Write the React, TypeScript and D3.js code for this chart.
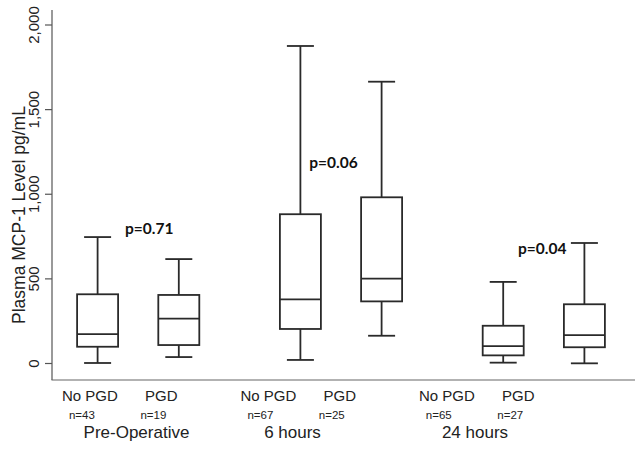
import React from "react";
import * as d3 from "d3";

const timepoints = ["Pre-Operative", "6 hours", "24 hours"];
const subgroups = ["No PGD", "PGD"];
const sampleSizes = [[43, 19], [67, 25], [65, 27]];
// [min, q1, median, q3, max] for each timepoint x subgroup
const whiskerLow = [[3, 38], [21, 164], [5, 1]];
const quartile1 = [[99, 109], [204, 367], [48, 96]];
const medians = [[173, 265], [379, 501], [103, 168]];
const quartile3 = [[409, 405], [882, 982], [223, 350]];
const whiskerHigh = [[747, 617], [1876, 1665], [482, 712]];
const pValues = ["p=0.71", "p=0.06", "p=0.04"];
const pValueLevel = [800, 1190, 682];
const yTicks = [0, 500, 1000, 1500, 2000];

const W = 635;
const H = 455;

export default function App() {
  const y = d3.scaleLinear().domain([0, 2000]).range([363.5, 25]);
  const xGroup = d3.scaleBand<string>().domain(timepoints).range([36.8, 645.2]).padding(0);
  const bw = xGroup.bandwidth();
  const xSub = d3.scalePoint<string>().domain(subgroups).range([bw / 2 - 40.6, bw / 2 + 40.6]);
  const boxX = (g: string, s: string) => (xGroup(g) as number) + (xSub(s) as number);
  // text labels beneath are laid out on a compressed version of the box positions
  const labelX = d3.scaleLinear().domain([0, 100]).range([4, 92]);
  const boxW = 41;
  const capW = 27;
  const fmt = d3.format(",");
  const stroke = "#2a2a2a";
  const groupTitleX = [136.5, 292.5, 475];
  const pShift = [11, -7.5, -1.5];

  return (
    <svg
      width={W}
      height={H}
      style={{ position: "absolute", left: 0, top: 0, background: "#fff" }}
      fontFamily="'Liberation Sans', Arial, Helvetica, sans-serif"
    >
      <rect x={0} y={0} width={W} height={H} fill="#fff" />
      {/* axes */}
      <line x1={52} x2={52} y1={10} y2={380} stroke="#555" strokeWidth={1.2} />
      <line x1={51.5} x2={635} y1={380} y2={380} stroke="#666" strokeWidth={1.2} />
      {yTicks.map((t) => (
        <g key={t}>
          <line x1={45} x2={52} y1={y(t)} y2={y(t)} stroke="#555" strokeWidth={1.2} />
          <text
            transform={`translate(33,${y(t)}) rotate(-90)`}
            textAnchor="middle"
            dominantBaseline="central"
            fontSize={15}
            fill="#222"
          >
            {fmt(t)}
          </text>
        </g>
      ))}
      <text
        transform={`translate(18.5,215) rotate(-90)`}
        textAnchor="middle"
        dominantBaseline="central"
        fontSize={17.5}
        fill="#222"
      >
        Plasma MCP-1 Level pg/mL
      </text>

      {/* boxes */}
      {timepoints.map((g, gi) =>
        subgroups.map((s, si) => {
          const cx = boxX(g, s);
          return (
            <g key={g + s} stroke={stroke} strokeWidth={1.8} fill="none">
              <line x1={cx} x2={cx} y1={y(whiskerHigh[gi][si])} y2={y(quartile3[gi][si])} />
              <line x1={cx} x2={cx} y1={y(quartile1[gi][si])} y2={y(whiskerLow[gi][si])} />
              <line x1={cx - capW / 2} x2={cx + capW / 2} y1={y(whiskerHigh[gi][si])} y2={y(whiskerHigh[gi][si])} />
              <line x1={cx - capW / 2} x2={cx + capW / 2} y1={y(whiskerLow[gi][si])} y2={y(whiskerLow[gi][si])} />
              <rect
                x={cx - boxW / 2}
                y={y(quartile3[gi][si])}
                width={boxW}
                height={y(quartile1[gi][si]) - y(quartile3[gi][si])}
                fill="#fff"
              />
              <line x1={cx - boxW / 2} x2={cx + boxW / 2} y1={y(medians[gi][si])} y2={y(medians[gi][si])} />
            </g>
          );
        })
      )}

      {/* p-values */}
      {timepoints.map((g, gi) => (
        <text
          key={"p" + g}
          x={(xGroup(g) as number) + bw / 2 + pShift[gi]}
          y={y(pValueLevel[gi])}
          textAnchor="middle"
          dominantBaseline="central"
          fontFamily="Lato, 'Open Sans', sans-serif"
          fontWeight={700}
          fontSize={15.5}
          fill="#111"
        >
          {pValues[gi]}
        </text>
      ))}

      {/* x labels */}
      {timepoints.map((g, gi) =>
        subgroups.map((s, si) => {
          const lx = labelX(boxX(g, s));
          return (
            <g key={"l" + g + s}>
              <text x={lx} y={400.5} textAnchor="middle" fontSize={15} fill="#222">
                {s}
              </text>
              <text x={lx - 8} y={419} textAnchor="middle" fontSize={11.5} fill="#222">
                n={sampleSizes[gi][si]}
              </text>
            </g>
          );
        })
      )}
      {timepoints.map((g, gi) => (
        <text key={"t" + g} x={groupTitleX[gi]} y={437.5} textAnchor="middle" fontSize={17} fill="#222">
          {g}
        </text>
      ))}
    </svg>
  );
}
